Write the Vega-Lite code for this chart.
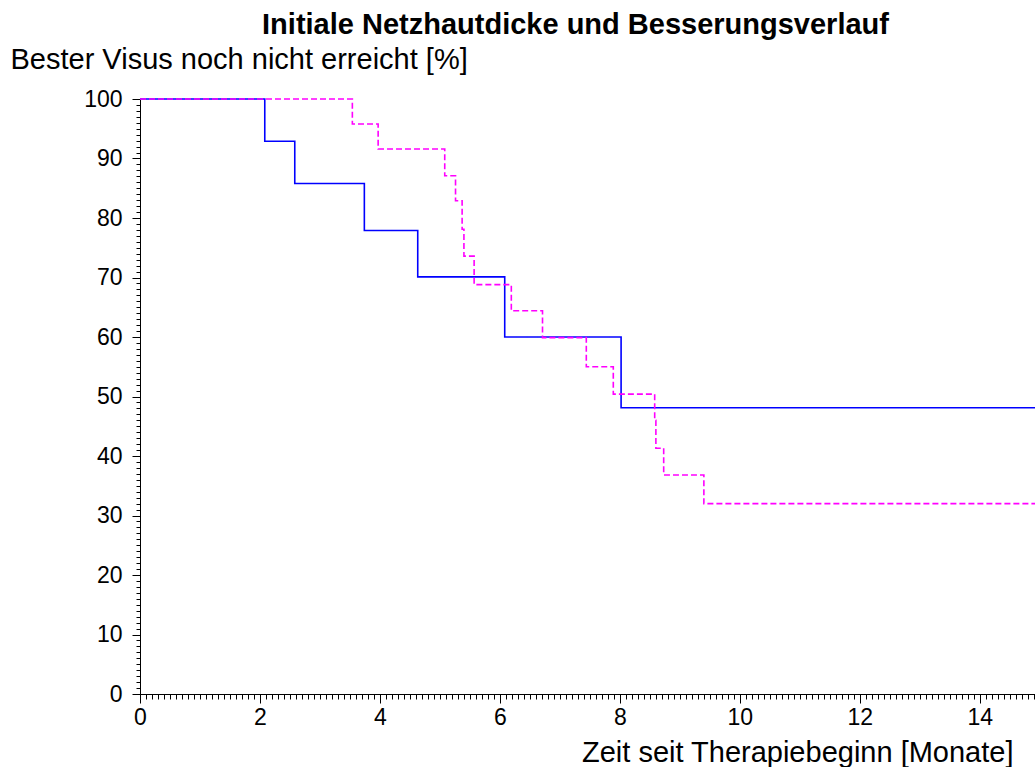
{
  "$schema": "https://vega.github.io/schema/vega-lite/v6.json",
  "width": 895,
  "height": 595,
  "autosize": "none",
  "padding": {"left": 140, "top": 99, "right": 0, "bottom": 73},
  "background": "white",
  "config": {
    "view": {"stroke": null},
    "font": "Liberation Sans",
    "axis": {
      "domainColor": "black",
      "tickColor": "black",
      "labelColor": "black",
      "titleColor": "black",
      "grid": false,
      "labelFont": "Liberation Sans",
      "titleFont": "Liberation Sans",
      "titleFontWeight": "normal",
      "labelFlush": false
    }
  },
  "title": {
    "text": "Initiale Netzhautdicke und Besserungsverlauf",
    "fontSize": 29,
    "fontWeight": "bold",
    "font": "Liberation Sans",
    "color": "black",
    "anchor": "middle",
    "frame": "group",
    "dx": -12,
    "offset": 5
  },
  "data": {
    "values": [
      {"t": 0, "v": 100, "g": "A"},
      {"t": 2.08, "v": 92.9, "g": "A"},
      {"t": 2.58, "v": 85.8, "g": "A"},
      {"t": 3.74, "v": 77.9, "g": "A"},
      {"t": 4.63, "v": 70.1, "g": "A"},
      {"t": 6.08, "v": 60.0, "g": "A"},
      {"t": 8.02, "v": 48.1, "g": "A"},
      {"t": 14.92, "v": 48.1, "g": "A"},
      {"t": 0, "v": 100, "g": "B"},
      {"t": 3.54, "v": 95.8, "g": "B"},
      {"t": 3.97, "v": 91.6, "g": "B"},
      {"t": 5.08, "v": 87.1, "g": "B"},
      {"t": 5.26, "v": 82.9, "g": "B"},
      {"t": 5.37, "v": 78.1, "g": "B"},
      {"t": 5.40, "v": 73.6, "g": "B"},
      {"t": 5.57, "v": 68.8, "g": "B"},
      {"t": 6.19, "v": 64.4, "g": "B"},
      {"t": 6.71, "v": 59.9, "g": "B"},
      {"t": 7.44, "v": 55.0, "g": "B"},
      {"t": 7.89, "v": 50.4, "g": "B"},
      {"t": 8.58, "v": 46.0, "g": "B"},
      {"t": 8.60, "v": 41.3, "g": "B"},
      {"t": 8.73, "v": 36.8, "g": "B"},
      {"t": 9.40, "v": 32.0, "g": "B"},
      {"t": 14.92, "v": 32.0, "g": "B"}
    ]
  },
  "layer": [
    {
      "mark": {"type": "line", "opacity": 0},
      "encoding": {
        "x": {
          "field": "t", "type": "quantitative",
          "scale": {"domain": [0, 14.92], "nice": false, "zero": false},
          "axis": {"orient": "bottom", "tickCount": 149, "labels": false, "domain": false, "title": null, "tickSize": 5, "ticks": true}
        },
        "y": {
          "field": "v", "type": "quantitative",
          "scale": {"domain": [0, 100], "nice": false},
          "axis": {"orient": "left", "tickCount": 100, "labels": false, "domain": false, "title": null, "tickSize": 4, "ticks": true}
        }
      }
    },
    {
      "mark": {"type": "line", "interpolate": "step-after", "strokeWidth": 1.6},
      "encoding": {
        "x": {
          "field": "t", "type": "quantitative",
          "axis": {
            "orient": "bottom",
            "values": [0, 2, 4, 6, 8, 10, 12, 14],
            "tickSize": 9,
            "labelFontSize": 23,
            "labelPadding": 3,
            "title": "Zeit seit Therapiebeginn [Monate]",
            "titleFontSize": 29,
            "titleAlign": "right",
            "titleAnchor": "end",
            "titleBaseline": "alphabetic",
            "titleX": 873,
            "titleY": 67
          }
        },
        "y": {
          "field": "v", "type": "quantitative",
          "axis": {
            "orient": "left",
            "values": [0, 10, 20, 30, 40, 50, 60, 70, 80, 90, 100],
            "tickSize": 8,
            "labelFontSize": 23,
            "labelPadding": 10,
            "title": "Bester Visus noch nicht erreicht [%]",
            "titleFontSize": 29,
            "titleAngle": 0,
            "titleAlign": "left",
            "titleBaseline": "alphabetic",
            "titleX": -130,
            "titleY": -31
          }
        },
        "color": {
          "field": "g", "type": "nominal",
          "scale": {"domain": ["A", "B"], "range": ["#0000FF", "#FF00FF"]},
          "legend": null
        },
        "strokeDash": {
          "field": "g", "type": "nominal",
          "scale": {"domain": ["A", "B"], "range": [[1, 0], [6, 3]]},
          "legend": null
        }
      }
    }
  ],
  "resolve": {"axis": {"x": "independent", "y": "independent"}}
}
